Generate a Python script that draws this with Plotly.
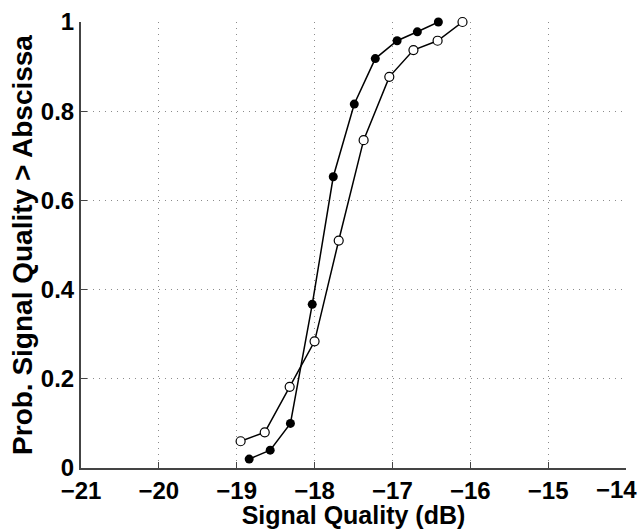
import plotly.graph_objects as go

# Signal quality (dB) and exceedance probability for the two measurement sets
sq_filled = [-18.84, -18.57, -18.31, -18.03, -17.76, -17.49, -17.22, -16.94, -16.68, -16.41]
p_filled = [0.02, 0.04, 0.10, 0.367, 0.653, 0.816, 0.918, 0.958, 0.978, 1.0]

sq_open = [-18.95, -18.64, -18.32, -18.00, -17.69, -17.37, -17.04, -16.73, -16.42, -16.10]
p_open = [0.06, 0.08, 0.182, 0.284, 0.51, 0.735, 0.877, 0.937, 0.958, 1.0]

x_ticks = [-21, -20, -19, -18, -17, -16, -15, -14]
x_tick_text = ["\u221221", "\u221220", "\u221219", "\u221218", "\u221217", "\u221216",
               "\u221215", "\u221214"]
y_ticks = [0, 0.2, 0.4, 0.6, 0.8, 1]
y_tick_text = ["0", "0.2", "0.4", "0.6", "0.8", "1"]

font_family = "Liberation Sans, Arial, sans-serif"
tick_font = dict(family=font_family, size=24, color="black", weight="bold")

fig = go.Figure()
fig.add_trace(go.Scatter(
    x=sq_filled, y=p_filled, mode="lines+markers",
    line=dict(color="black", width=1.5),
    marker=dict(symbol="circle", size=9, color="black"),
    cliponaxis=False, showlegend=False,
))
fig.add_trace(go.Scatter(
    x=sq_open, y=p_open, mode="lines+markers",
    line=dict(color="black", width=1.5),
    marker=dict(symbol="circle", size=9, color="white",
                line=dict(color="black", width=1.2)),
    cliponaxis=False, showlegend=False,
))

axis_common = dict(
    showline=True, linecolor="#444444", linewidth=2,
    ticks="inside", ticklen=6, tickwidth=1, tickcolor="#444444",
    showgrid=True, gridcolor="#8c8c8c", gridwidth=1, griddash="1px,5px",
    zeroline=False, mirror=False, automargin=False,
    tickfont=tick_font,
)

# the rightmost x label is drawn right-aligned at its tick so it stays on the page
fig.add_annotation(
    x=x_ticks[-1], xref="x", y=0, yref="paper",
    text=x_tick_text[-1], showarrow=False,
    xanchor="right", yanchor="top", xshift=13, yshift=-6,
    font=tick_font,
)

fig.update_layout(
    width=644, height=529,
    margin=dict(l=81, r=18, t=22, b=61),
    paper_bgcolor="white", plot_bgcolor="white",
    font=dict(family=font_family, color="black"),
    xaxis=dict(
        range=[-21, -14], tickvals=x_ticks, ticktext=x_tick_text[:-1] + [""],
        title=dict(text="Signal Quality (dB)", standoff=3,
                   font=dict(family=font_family, size=25, color="black", weight="bold")),
        **axis_common,
    ),
    yaxis=dict(
        range=[0, 1], tickvals=y_ticks, ticktext=y_tick_text,
        title=dict(text="Prob. Signal Quality > Abscissa", standoff=0,
                   font=dict(family=font_family, size=28, color="black", weight="bold")),
        **axis_common,
    ),
)

fig.write_html("out.html")
